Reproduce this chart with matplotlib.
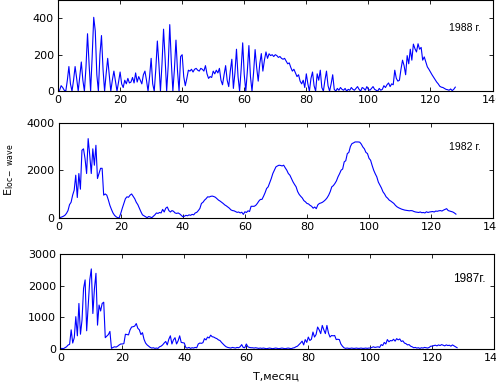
import numpy as np
import matplotlib.pyplot as plt

# months 0..128 with step 0.5
months = np.arange(257) * 0.5

e1988 = [0, 5, 30, 20, 5, 0, 60, 135, 40, 0, 60, 135, 70, 0, 80, 160, 60, 0, 130, 315,
         150, 0, 190, 405, 330, 90, 0, 200, 305, 120, 0, 95, 180, 90, 0, 60, 110, 55, 0, 50,
         105, 40, 20, 60, 40, 70, 45, 50, 75, 45, 100, 50, 80, 60, 40, 90, 110, 60, 0, 80,
         180, 40, 0, 120, 275, 150, 0, 150, 340, 180, 0, 140, 365, 160, 0, 120, 280, 110, 0, 190,
         200, 80, 30, 70, 115, 110, 120, 105, 120, 125, 115, 110, 125, 120, 110, 140, 95, 70, 80, 75,
         110, 95, 115, 100, 125, 60, 35, 90, 140, 60, 25, 110, 175, 15, 100, 230, 80, 0, 120, 265,
         90, 0, 110, 250, 80, 0, 100, 228, 130, 55, 150, 206, 110, 170, 215, 180, 205, 195, 200, 190,
         200, 195, 185, 190, 180, 175, 180, 165, 150, 155, 130, 110, 120, 100, 80, 90, 55, 40, 60, 20,
         95, 40, 0, 70, 105, 30, 0, 95, 60, 115, 20, 0, 60, 110, 30, 0, 40, 90, 10, 0,
         15, 5, 20, 10, 5, 15, 0, 10, 5, 20, 10, 5, 15, 25, 10, 0, 20, 15, 5, 25,
         10, 5, 15, 25, 10, 5, 0, 15, 5, 10, 30, 20, 35, 45, 25, 40, 35, 115, 70, 55,
         60, 120, 170, 140, 90, 195, 150, 230, 170, 258, 233, 215, 260, 230, 240, 170, 188, 160, 133, 120,
         105, 90, 77, 65, 50, 40, 27, 22, 20, 15, 10, 8, 5, 12, 3, 10, 22]

e1982 = [0, 10, 30, 60, 100, 180, 300, 550, 650, 950, 1160, 1790, 850, 1860, 1200, 2840, 2900, 2480, 1860, 3330,
         2650, 1860, 2900, 2210, 3050, 1650, 1860, 2080, 2080, 950, 1000, 950, 750, 520, 350, 200, 100, 40, 0, 0,
         180, 400, 600, 800, 880, 860, 950, 1000, 900, 800, 650, 550, 400, 250, 120, 80, 40, 0, 50, 30,
         0, 60, 120, 200, 180, 220, 200, 350, 240, 400, 450, 300, 240, 300, 270, 200, 180, 200, 160, 100,
         40, 60, 100, 80, 120, 100, 140, 120, 200, 225, 300, 390, 600, 650, 740, 800, 880, 870, 900, 910,
         890, 860, 800, 740, 700, 650, 600, 540, 500, 450, 400, 330, 300, 290, 260, 225, 240, 200, 230, 140,
         250, 220, 290, 260, 480, 480, 480, 520, 600, 700, 770, 770, 900, 1050, 1230, 1300, 1480, 1650, 1860, 2000,
         2140, 2180, 2210, 2200, 2180, 2210, 2100, 2000, 1860, 1790, 1650, 1510, 1400, 1300, 1100, 980, 900, 830, 720, 670,
         600, 580, 520, 480, 400, 450, 380, 540, 600, 620, 650, 700, 760, 840, 950, 1100, 1300, 1350, 1440, 1550,
         1720, 1850, 2000, 2050, 2350, 2400, 2700, 2750, 3000, 3120, 3150, 3190, 3190, 3190, 3180, 3100, 2980, 2900, 2750, 2700,
         2500, 2420, 2200, 2000, 1850, 1720, 1500, 1370, 1250, 1090, 1000, 880, 820, 740, 700, 650, 600, 520, 460, 420,
         390, 360, 340, 320, 310, 300, 290, 300, 290, 260, 240, 230, 220, 240, 210, 220, 200, 250, 220, 240,
         250, 260, 240, 280, 270, 290, 300, 280, 320, 350, 380, 300, 280, 260, 240, 200, 150]

e1987 = [0, 10, 0, 30, 60, 115, 140, 600, 180, 350, 1020, 410, 1440, 460, 910, 1920, 2190, 570, 1390, 2190,
         2540, 1120, 1900, 2400, 750, 1390, 1200, 1440, 1480, 350, 400, 450, 550, 10, 40, 60, 50, 80, 120, 150,
         150, 160, 460, 450, 440, 600, 690, 700, 720, 800, 650, 600, 450, 510, 300, 180, 120, 80, 40, 20,
         30, 10, 20, 10, 60, 80, 120, 180, 230, 120, 300, 410, 150, 280, 350, 150, 250, 410, 200, 190,
         180, 30, 20, 40, 10, 30, 20, 40, 30, 150, 180, 170, 190, 320, 280, 370, 340, 430, 380, 370,
         340, 320, 280, 260, 200, 150, 100, 60, 40, 30, 20, 40, 30, 20, 40, 30, 60, 130, 40, 30,
         150, 60, 40, 30, 30, 20, 30, 20, 10, 20, 10, 20, 10, 0, 10, 20, 10, 0, 10, 20,
         10, 0, 10, 20, 10, 0, 10, 20, 10, 0, 20, 30, 60, 80, 130, 180, 240, 120, 290, 200,
         370, 260, 300, 530, 370, 450, 690, 600, 480, 740, 600, 480, 740, 500, 370, 420, 410, 420, 290, 300,
         290, 150, 80, 30, 10, 20, 10, 10, 20, 10, 10, 20, 10, 10, 20, 10, 10, 20, 10, 20,
         20, 40, 60, 40, 50, 60, 40, 130, 100, 200, 150, 290, 220, 260, 250, 300, 240, 320, 280, 310,
         230, 250, 180, 160, 120, 130, 80, 60, 30, 40, 20, 30, 10, 30, 20, 40, 30, 20, 40, 80,
         80, 100, 110, 90, 120, 100, 130, 110, 90, 120, 100, 110, 80, 120, 90, 60, 30]

series = [e1988, e1982, e1987]
labels = ["1988 г.", "1982 г.", "1987г."]
ylims = [500, 4000, 3000]
yticks = [[0, 200, 400], [0, 2000, 4000], [0, 1000, 2000, 3000]]

fig = plt.figure(figsize=(4.96, 3.83), dpi=100)
positions = [[0.117, 0.762, 0.876, 0.238],
             [0.1183, 0.4316, 0.876, 0.248],
             [0.1216, 0.0896, 0.875, 0.246]]
label_pos = [(0.899, 0.695), (0.899, 0.747), (0.905, 0.737)]
label_size = [7.5, 7.5, 8.5]

for i in range(3):
    ax = fig.add_axes(positions[i])
    ax.plot(months, series[i], color='blue', lw=0.8)
    ax.set_xlim(0, 140)
    ax.set_ylim(0, ylims[i])
    ax.set_xticks(range(0, 141, 20))
    ax.set_yticks(yticks[i])
    ax.tick_params(direction='in', top=True, right=True, length=3, width=0.6,
                   labelsize=8, pad=3)
    for s in ax.spines.values():
        s.set_linewidth(0.8)
    ax.text(label_pos[i][0], label_pos[i][1], labels[i], transform=ax.transAxes,
            fontsize=label_size[i], family='Liberation Sans', va='center', ha='left')

fig.text(0.018, 0.556, r'E$_{\mathregular{loc- \ wave}}$', rotation=90,
         ha='center', va='center', fontsize=8)
fig.text(276 / 496, 0.016, "Т,месяц", ha='center', va='center', fontsize=8)

fig.savefig("out.png", dpi=100)
